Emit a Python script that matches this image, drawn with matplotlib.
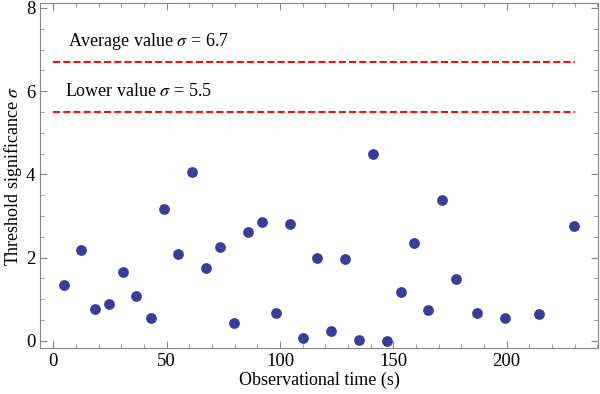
import matplotlib.pyplot as plt
from matplotlib.ticker import MultipleLocator

plt.rcParams['font.family'] = ['Liberation Serif', 'DejaVu Serif']
plt.rcParams['mathtext.fontset'] = 'stix'

# observation times (s) and threshold significance
times = [4.7, 12.2, 18.4, 24.6, 30.7, 36.6, 43.0, 48.8, 55.0, 61.3, 67.4, 73.5,
         79.8, 85.9, 92.0, 98.1, 104.3, 110.3, 116.4, 122.5, 128.7, 134.8,
         140.9, 147.2, 153.3, 159.3, 165.4, 171.6, 177.7, 187.0, 199.3, 214.3, 229.8]
sigma = [1.35, 2.18, 0.77, 0.88, 1.65, 1.08, 0.54, 3.18, 2.09, 4.06, 1.75, 2.25,
         0.44, 2.62, 2.86, 0.67, 2.82, 0.07, 1.99, 0.25, 1.96, 0.02,
         4.48, 0.0, 1.18, 2.36, 0.75, 3.38, 1.48, 0.67, 0.56, 0.65, 2.75]

avg_sigma = 6.7
low_sigma = 5.5
line_span = [0, 230]

fig = plt.figure(figsize=(6.0, 3.94), dpi=100)
ax = fig.add_axes([0.0667, 0.1168, 0.93, 0.8756])

ax.plot(line_span, [avg_sigma, avg_sigma], color='#f01010', lw=1.5, dashes=(3.4, 1.5))
ax.plot(line_span, [low_sigma, low_sigma], color='#f01010', lw=1.5, dashes=(3.4, 1.5))
ax.scatter(times, sigma, s=60, color='#3b3b98', zorder=3, linewidths=0)

ax.text(6.5, 7.2, 'Average value $\\sigma$ = 6.7', fontsize=13, va='center')
ax.text(5.2, 6.0, 'Lower value $\\sigma$ = 5.5', fontsize=13, va='center')

ax.set_xlim(-5.9, 240.3)
ax.set_ylim(-0.17, 8.12)
ax.xaxis.set_major_locator(MultipleLocator(50))
ax.xaxis.set_minor_locator(MultipleLocator(10))
ax.yaxis.set_major_locator(MultipleLocator(2))
ax.yaxis.set_minor_locator(MultipleLocator(0.5))
ax.tick_params(which='both', direction='in', top=True, right=True,
               color='#888888', labelsize=13.5)
ax.tick_params(which='major', length=5, width=0.8)
ax.tick_params(which='minor', length=3, width=0.6)
for s in ax.spines.values():
    s.set_color('#888888')
    s.set_linewidth(0.8)

ax.set_xlabel('Observational time (s)', fontsize=13, labelpad=1)
ax.set_ylabel('Threshold significance $\\sigma$', fontsize=13, labelpad=1)

fig.savefig('out.png', dpi=100)
